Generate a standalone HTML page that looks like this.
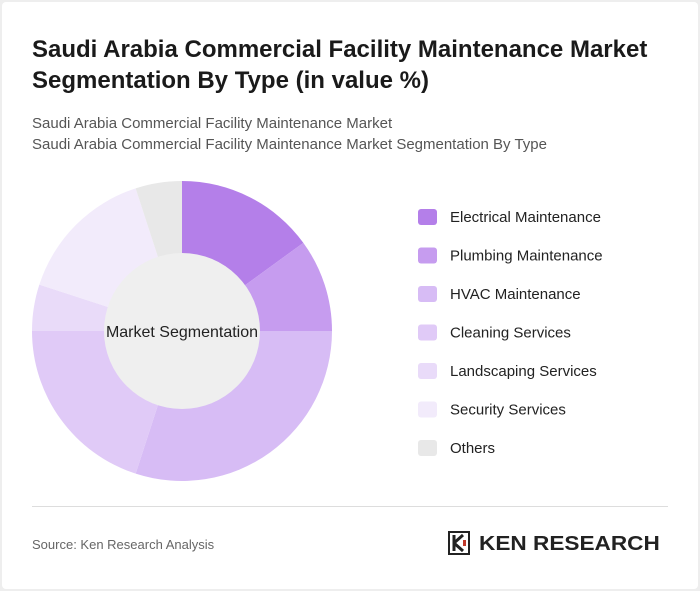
<!DOCTYPE html>
<html><head><meta charset="utf-8"><style>
body{margin:0;width:700px;height:591px;background:#eee;font-family:"Liberation Sans",sans-serif;overflow:hidden}
#card{position:absolute;left:2px;top:2px;width:696px;height:587px;background:#fff;border-radius:4px}
.t{position:absolute;left:32px;color:#222}
</style></head><body>
<div id="card">
<div class="t" style="top:32px;left:30px;font-size:24px;font-weight:bold;line-height:31px;width:660px;color:#1a1a1a">Saudi Arabia Commercial Facility Maintenance Market Segmentation By Type (in value %)</div>
<div class="t" style="top:111px;left:30px;font-size:15px;line-height:21px;color:#555">Saudi Arabia Commercial Facility Maintenance Market<br>Saudi Arabia Commercial Facility Maintenance Market Segmentation By Type</div>
<svg id="chart" width="700" height="591" style="position:absolute;left:-2px;top:-2px"></svg>
<div style="position:absolute;left:30px;top:504px;width:636px;height:1px;background:#ddd"></div>
<div class="t" style="top:535px;left:30px;font-size:13px;color:#666">Source: Ken Research Analysis</div>
<div style="position:absolute;left:446px;top:529px;width:222px;height:24px">
<svg width="24" height="24" style="position:absolute;left:0;top:0"><rect x="1" y="1" width="20" height="22" fill="none" stroke="#222" stroke-width="2"/><path d="M6 4v16M6 12l9-8M6 12l9 8" stroke="#222" stroke-width="3" fill="none"/><rect x="15" y="9" width="3" height="6" fill="#c0392b"/></svg>
<div style="position:absolute;left:31px;top:2px;font-size:20px;font-weight:bold;color:#222;transform:scaleX(1.13);transform-origin:left top;white-space:nowrap">KEN RESEARCH</div>
</div>
</div>
<script>
const categories=["Electrical Maintenance","Plumbing Maintenance","HVAC Maintenance","Cleaning Services","Landscaping Services","Security Services","Others"];
const values=[15,10,30,20,5,15,5];
const colors=["#b47fe9","#c69cef","#d7bcf5","#e0caf7","#e9dbf9","#f2ebfb","#e8e8e8"];
const svg=document.getElementById('chart');
const NS="http://www.w3.org/2000/svg";
const cx=182,cy=331,R=150,r=78;
const total=values.reduce((a,b)=>a+b,0);
let a0=0;
function pt(a,rad){return [cx+rad*Math.sin(a),cy-rad*Math.cos(a)];}
values.forEach((v,i)=>{
  const a1=a0+v/total*2*Math.PI;
  const [x0,y0]=pt(a0,R),[x1,y1]=pt(a1,R);
  const large=(a1-a0)>Math.PI?1:0;
  const p=document.createElementNS(NS,'path');
  p.setAttribute('d',`M${cx},${cy}L${x0},${y0}A${R},${R} 0 ${large} 1 ${x1},${y1}Z`);
  p.setAttribute('fill',colors[i]);
  
  
  svg.appendChild(p);
  a0=a1;
  const y=217+i*38.5;
  const sq=document.createElementNS(NS,'rect');
  sq.setAttribute('x',418);sq.setAttribute('y',y-8);sq.setAttribute('width',19);sq.setAttribute('height',16);sq.setAttribute('rx',3);sq.setAttribute('fill',colors[i]);
  
  
  svg.appendChild(sq);
  const t=document.createElementNS(NS,'text');
  t.setAttribute('x',450);t.setAttribute('y',y+5);t.setAttribute('font-size','15');t.setAttribute('fill','#222');
  t.textContent=categories[i];
  
  
  svg.appendChild(t);
});
const c=document.createElementNS(NS,'circle');
c.setAttribute('cx',cx);c.setAttribute('cy',cy);c.setAttribute('r',r);c.setAttribute('fill','#efefef');


svg.appendChild(c);
const ct=document.createElementNS(NS,'text');
ct.setAttribute('x',cx);ct.setAttribute('y',cy+6);ct.setAttribute('text-anchor','middle');ct.setAttribute('font-size','16');ct.setAttribute('fill','#222');
ct.textContent="Market Segmentation";


svg.appendChild(ct);
</script>
</body></html>
